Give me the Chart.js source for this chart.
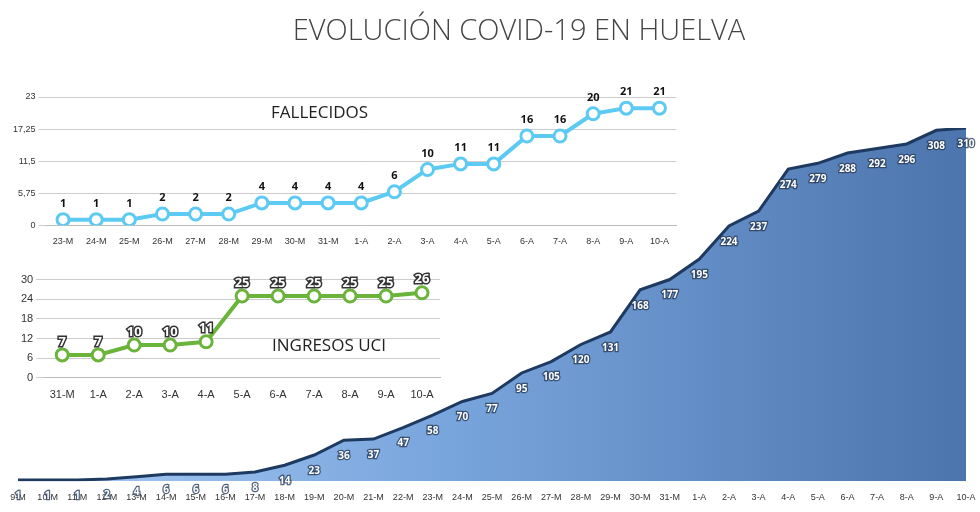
<!DOCTYPE html>
<html><head><meta charset="utf-8">
<script src="https://cdn.jsdelivr.net/npm/chart.js@4"></script>
<style>
body{margin:0;width:980px;height:512px;background:#fff;overflow:hidden;position:relative;font-family:"Open Sans",sans-serif}
.c{position:absolute}
#t{position:absolute;left:0;width:1038px;top:9px;text-align:center;font-size:29px;color:#444;font-family:"Open Sans",sans-serif;font-weight:300}
.lab{position:absolute;font-size:17px;color:#222}
</style></head><body>
<div class="c" style="left:0;top:0;width:980px;height:506px"><canvas id="a"></canvas></div>
<div class="c" style="left:0;top:87px;width:686px;height:163px"><canvas id="f"></canvas></div>
<div class="c" style="left:0;top:270px;width:450px;height:135px"><canvas id="u"></canvas></div>
<div id="t">EVOLUCIÓN COVID-19 EN HUELVA</div>
<div class="lab" style="left:271px;top:100px">FALLECIDOS</div>
<div class="lab" style="left:272px;top:333px">INGRESOS UCI</div>
<script>
const casosLabels=["9-M","10-M","11-M","12-M","13-M","14-M","15-M","16-M","17-M","18-M","19-M","20-M","21-M","22-M","23-M","24-M","25-M","26-M","27-M","28-M","29-M","30-M","31-M","1-A","2-A","3-A","4-A","5-A","6-A","7-A","8-A","9-A","10-A"];
const casos=[1,1,1,2,4,6,6,6,8,14,23,36,37,47,58,70,77,95,105,120,131,168,177,195,224,237,274,279,288,292,296,308,310];
const fallLabels=["23-M","24-M","25-M","26-M","27-M","28-M","29-M","30-M","31-M","1-A","2-A","3-A","4-A","5-A","6-A","7-A","8-A","9-A","10-A"];
const fallecidos=[1,1,1,2,2,2,4,4,4,4,6,10,11,11,16,16,20,21,21];
const fallTicks=[0,5.75,11.5,17.25,23];
const uciLabels=["31-M","1-A","2-A","3-A","4-A","5-A","6-A","7-A","8-A","9-A","10-A"];
const uci=[7,7,10,10,11,25,25,25,25,25,26];

function labelPlugin(mode){return{id:'lbl'+mode,afterDatasetsDraw(ch){const ctx=ch.ctx;const m=ch.getDatasetMeta(0);const d=ch.data.datasets[0].data;ctx.save();ctx.textAlign='center';ctx.textBaseline='middle';
m.data.forEach((p,i)=>{const v=d[i];
if(mode==='a'){ctx.font='bold 10px "Open Sans"';ctx.lineWidth=2.5;ctx.strokeStyle='rgba(40,60,90,0.8)';ctx.strokeText(v,p.x,p.y+16);ctx.fillStyle='#fff';ctx.fillText(v,p.x,p.y+16);}
else if(mode==='f'){ctx.font='bold 11px "Open Sans"';ctx.fillStyle='#111';ctx.fillText(v,p.x,p.y-16);}
else{ctx.font='bold 13px "Open Sans"';ctx.lineWidth=3;ctx.strokeStyle='#333';ctx.strokeText(v,p.x,p.y-13);ctx.fillStyle='#fff';ctx.fillText(v,p.x,p.y-13);}
});ctx.restore();}}}

new Chart(document.getElementById('a'),{type:'line',
data:{labels:casosLabels,datasets:[{data:casos,borderColor:'#1f3a60',borderWidth:3,pointRadius:0,tension:0,fill:true,
backgroundColor:(c)=>{const a=c.chart.chartArea;if(!a)return '#6f97d0';const g=c.chart.ctx.createLinearGradient(a.left,0,a.right,0);g.addColorStop(0,'#a8cbf5');g.addColorStop(0.45,'#79a5dd');g.addColorStop(1,'#4c74ad');return g;}}]},
options:{responsive:true,maintainAspectRatio:false,animation:false,layout:{padding:{left:18,right:14,top:128,bottom:0}},
plugins:{legend:{display:false},tooltip:{enabled:false}},
scales:{y:{display:false,min:0,max:310},x:{offset:false,grid:{display:false},border:{display:false},ticks:{autoSkip:false,maxRotation:0,font:{size:9},color:'#333'}}}},
plugins:[labelPlugin('a')]});

new Chart(document.getElementById('f'),{type:'line',
data:{labels:fallLabels,datasets:[{data:fallecidos,borderColor:'#5ccaf2',borderWidth:4,pointRadius:6,pointBorderWidth:3,pointBackgroundColor:'#fff',pointBorderColor:'#5ccaf2',tension:0}]},
options:{responsive:true,maintainAspectRatio:false,animation:false,layout:{padding:{left:10,right:10,top:10}},
plugins:{legend:{display:false},tooltip:{enabled:false}},
scales:{y:{min:0,max:23,afterBuildTicks:(s)=>{s.ticks=fallTicks.map(v=>({value:v}));},border:{display:false},grid:{color:'#ccc',borderDash:[2,2]},ticks:{font:{size:9},color:'#333',callback:v=>String(v).replace('.',',')}},
x:{offset:true,grid:{display:false},border:{color:'#bbb'},ticks:{autoSkip:false,maxRotation:0,font:{size:9},color:'#333'}}}},
plugins:[labelPlugin('f')]});

new Chart(document.getElementById('u'),{type:'line',
data:{labels:uciLabels,datasets:[{data:uci,borderColor:'#6ab43c',borderWidth:4,pointRadius:6,pointBorderWidth:3,pointBackgroundColor:'#fff',pointBorderColor:'#6ab43c',tension:0}]},
options:{responsive:true,maintainAspectRatio:false,animation:false,layout:{padding:{left:18,right:10,top:8}},
plugins:{legend:{display:false},tooltip:{enabled:false}},
scales:{y:{min:0,max:30,ticks:{stepSize:6,font:{size:11},color:'#333'},border:{display:false},grid:{color:'#ccc',borderDash:[2,2]}},
x:{offset:true,grid:{display:false},border:{color:'#bbb'},ticks:{autoSkip:false,maxRotation:0,font:{size:11},color:'#333'}}}},
plugins:[labelPlugin('u')]});
</script></body></html>
